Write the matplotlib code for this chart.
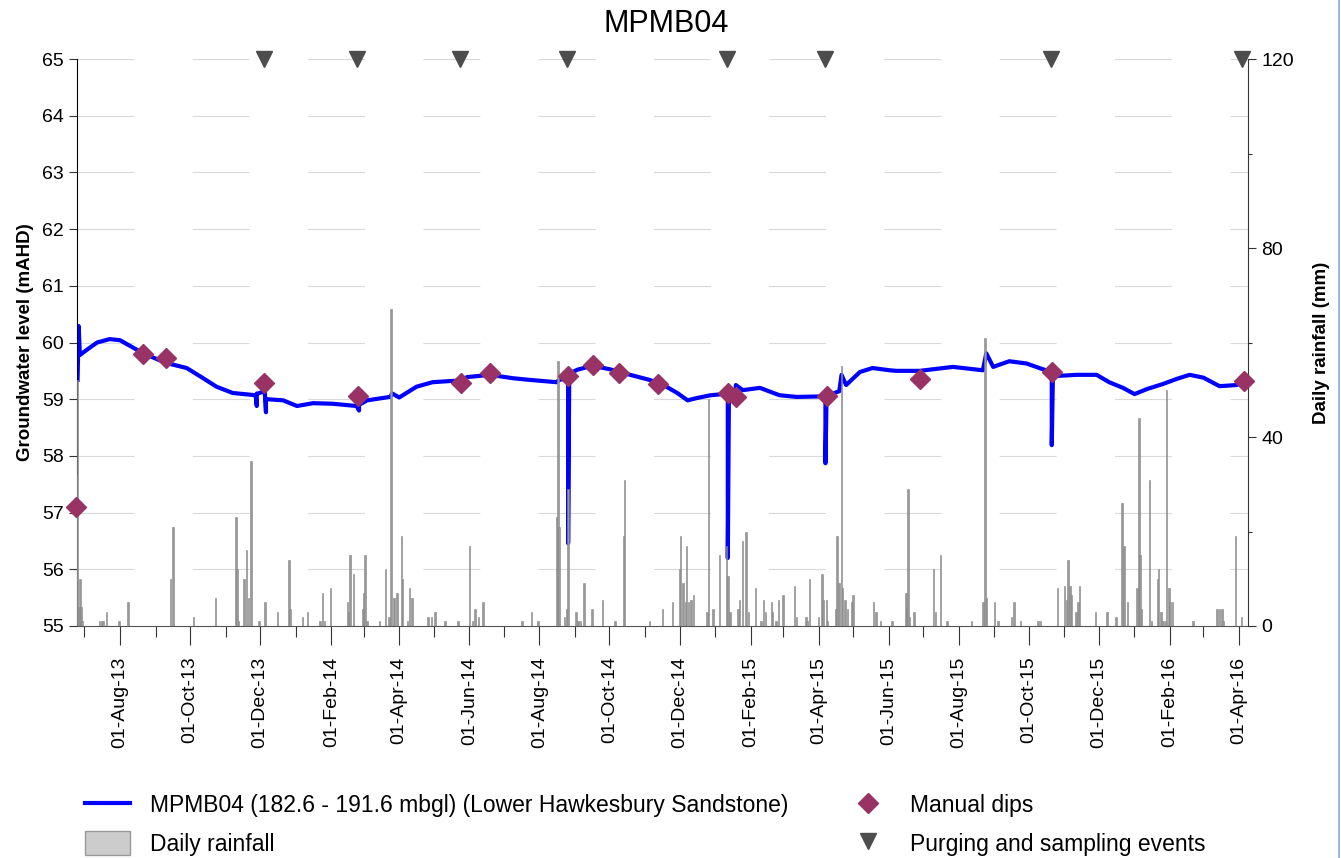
import matplotlib
matplotlib.use("Agg")
import matplotlib.pyplot as plt
import matplotlib.dates as mdates
from matplotlib.lines import Line2D
from matplotlib.patches import Patch
import numpy as np
import pandas as pd

plt.rcParams['font.family'] = ['Liberation Sans', 'DejaVu Sans']

# ---------------- data ----------------
level_dates = ["2013-06-25", "2013-06-26", "2013-06-27", "2013-07-03", "2013-07-12", "2013-07-23",
               "2013-08-01", "2013-08-21", "2013-09-10", "2013-09-28", "2013-10-10", "2013-10-24",
               "2013-11-07", "2013-11-27", "2013-11-28", "2013-11-28", "2013-11-29", "2013-12-03",
               "2013-12-05", "2013-12-06", "2013-12-06", "2013-12-07", "2013-12-21", "2014-01-02",
               "2014-01-16", "2014-02-02", "2014-02-23", "2014-02-25", "2014-02-25", "2014-03-04",
               "2014-03-24", "2014-03-26", "2014-04-01", "2014-04-16", "2014-04-30", "2014-05-15",
               "2014-05-26", "2014-05-30", "2014-06-19", "2014-07-09", "2014-07-24", "2014-08-16",
               "2014-08-18", "2014-08-26", "2014-08-26", "2014-08-27", "2014-09-03", "2014-09-16",
               "2014-10-01", "2014-10-19", "2014-11-05", "2014-11-17", "2014-11-29", "2014-12-08",
               "2014-12-16", "2014-12-28", "2015-01-08", "2015-01-12", "2015-01-12", "2015-01-13",
               "2015-01-19", "2015-01-19", "2015-01-25", "2015-02-09", "2015-02-26", "2015-03-13",
               "2015-04-05", "2015-04-07", "2015-04-07", "2015-04-08", "2015-04-19", "2015-04-21",
               "2015-04-25", "2015-05-07", "2015-05-18", "2015-06-02", "2015-06-08", "2015-06-28",
               "2015-07-27", "2015-08-22", "2015-08-25", "2015-08-31", "2015-09-14", "2015-09-29",
               "2015-10-13", "2015-10-21", "2015-10-21", "2015-10-22", "2015-10-25", "2015-11-12",
               "2015-11-29", "2015-12-10", "2015-12-22", "2016-01-01", "2016-01-12", "2016-01-26",
               "2016-02-07", "2016-02-18", "2016-03-01", "2016-03-15", "2016-03-30", "2016-04-05"]
level_values = [59.34, 60.29, 59.78, 59.87, 60.00, 60.06,
                60.04, 59.81, 59.64, 59.55, 59.40, 59.22,
                59.11, 59.07, 58.88, 59.10, 59.10, 59.13,
                59.12, 58.77, 59.00, 59.00, 58.98, 58.88,
                58.93, 58.92, 58.88, 58.80, 58.90, 58.98,
                59.04, 59.10, 59.03, 59.22, 59.30, 59.32,
                59.33, 59.39, 59.43, 59.37, 59.34, 59.30,
                59.34, 59.37, 56.46, 59.45, 59.52, 59.59,
                59.53, 59.43, 59.34, 59.25, 59.11, 58.98,
                59.02, 59.07, 59.09, 59.09, 56.20, 59.10,
                59.12, 59.25, 59.16, 59.20, 59.07, 59.04,
                59.05, 59.05, 57.87, 59.06, 59.14, 59.43,
                59.25, 59.48, 59.55, 59.51, 59.50, 59.50,
                59.57, 59.51, 59.81, 59.57, 59.67, 59.63,
                59.53, 59.48, 58.19, 59.45, 59.41, 59.43,
                59.43, 59.30, 59.20, 59.09, 59.18, 59.27,
                59.36, 59.43, 59.38, 59.23, 59.25, 59.30]

rain_dates = ["2013-06-24", "2013-06-25", "2013-06-26", "2013-06-27", "2013-06-28", "2013-06-29",
              "2013-07-14", "2013-07-16", "2013-07-17", "2013-07-20", "2013-07-31", "2013-08-08",
              "2013-09-14", "2013-09-16", "2013-10-04", "2013-10-23", "2013-11-10", "2013-11-11",
              "2013-11-12", "2013-11-17", "2013-11-19", "2013-11-21", "2013-11-23", "2013-11-30",
              "2013-12-05", "2013-12-16", "2013-12-26", "2013-12-27", "2014-01-07", "2014-01-11",
              "2014-01-22", "2014-01-24", "2014-01-26", "2014-01-31", "2014-02-15", "2014-02-16",
              "2014-02-17", "2014-02-20", "2014-02-28", "2014-03-01", "2014-03-02", "2014-03-04",
              "2014-03-15", "2014-03-20", "2014-03-23", "2014-03-25", "2014-03-27", "2014-03-28",
              "2014-03-30", "2014-04-03", "2014-04-04", "2014-04-08", "2014-04-10", "2014-04-12",
              "2014-04-26", "2014-04-29", "2014-05-02", "2014-05-11", "2014-05-22", "2014-06-01",
              "2014-06-04", "2014-06-06", "2014-06-09", "2014-06-13", "2014-07-17", "2014-07-25",
              "2014-07-31", "2014-08-16", "2014-08-17", "2014-08-18", "2014-08-23", "2014-08-25",
              "2014-08-26", "2014-09-02", "2014-09-03", "2014-09-04", "2014-09-06", "2014-09-09",
              "2014-09-16", "2014-09-25", "2014-10-06", "2014-10-13", "2014-10-14", "2014-11-05",
              "2014-11-16", "2014-11-25", "2014-12-01", "2014-12-02", "2014-12-04", "2014-12-06",
              "2014-12-07", "2014-12-09", "2014-12-11", "2014-12-13", "2014-12-25", "2014-12-26",
              "2014-12-30", "2015-01-05", "2015-01-11", "2015-01-12", "2015-01-14", "2015-01-21",
              "2015-01-22", "2015-01-25", "2015-01-28", "2015-01-30", "2015-02-05", "2015-02-10",
              "2015-02-12", "2015-02-14", "2015-02-19", "2015-02-20", "2015-02-23", "2015-02-25",
              "2015-03-01", "2015-03-11", "2015-03-13", "2015-03-21", "2015-03-22", "2015-03-24",
              "2015-04-01", "2015-04-04", "2015-04-05", "2015-04-08", "2015-04-09", "2015-04-16",
              "2015-04-17", "2015-04-19", "2015-04-21", "2015-04-22", "2015-04-24", "2015-04-26",
              "2015-04-30", "2015-05-01", "2015-05-19", "2015-05-21", "2015-05-25", "2015-06-04",
              "2015-06-16", "2015-06-17", "2015-06-18", "2015-06-19", "2015-06-23", "2015-07-10",
              "2015-07-12", "2015-07-16", "2015-07-22", "2015-08-12", "2015-08-22", "2015-08-24",
              "2015-08-25", "2015-09-01", "2015-09-04", "2015-09-16", "2015-09-18", "2015-09-24",
              "2015-10-09", "2015-10-11", "2015-10-26", "2015-11-01", "2015-11-03", "2015-11-04",
              "2015-11-06", "2015-11-07", "2015-11-11", "2015-11-13", "2015-11-14", "2015-11-28",
              "2015-12-08", "2015-12-16", "2015-12-21", "2015-12-23", "2015-12-26", "2016-01-03",
              "2016-01-05", "2016-01-06", "2016-01-07", "2016-01-14", "2016-01-16", "2016-01-21",
              "2016-01-22", "2016-01-24", "2016-01-26", "2016-01-28", "2016-01-29", "2016-01-31",
              "2016-02-01", "2016-02-03", "2016-02-21", "2016-03-13", "2016-03-15", "2016-03-17",
              "2016-03-18", "2016-03-29", "2016-04-03"]
rain_mm = [32, 52, 4, 10, 4, 1,
           1, 1, 1, 3, 1, 5,
           10, 21, 2, 6, 23, 12,
           1, 10, 16, 6, 35, 1,
           5, 3, 14, 3.5, 2, 3,
           1, 7, 1, 8, 5, 3,
           15, 11, 3.5, 7, 15, 1,
           1, 12, 2, 67, 6, 6,
           7, 19, 10, 1, 8, 6,
           2, 2, 3, 1, 1, 17,
           1, 3.5, 2, 5, 1, 3,
           1, 23, 56, 21, 2, 3.5,
           29, 3, 1, 1, 1, 9,
           3.5, 5.5, 1, 19, 31, 1,
           3.5, 5, 12, 19, 9, 5,
           17, 5, 5.5, 6.5, 3, 48,
           3.5, 15, 17, 10.5, 3, 3.5,
           5.5, 18, 20, 3, 8, 1,
           5.5, 3, 5, 3, 1, 5.5,
           6.5, 8.5, 2, 2, 1, 10,
           2, 11, 5.5, 5.5, 1, 3.5,
           19, 9, 55, 8, 5.5, 3.5,
           5, 6.5, 5, 3, 1, 1,
           7, 3.5, 29, 2, 3, 12,
           3, 15, 1, 1, 5, 61,
           6, 5, 1, 2, 5, 1,
           1, 1, 8, 8.5, 5.5, 14,
           8.5, 6.5, 3, 5, 8.5, 3,
           3, 2, 26, 17, 5, 8,
           44, 15, 3.5, 31, 1, 10,
           12, 3, 1, 1, 50, 8,
           5, 5, 1, 3.5, 3.5, 3.5,
           1, 19, 2]

dip_dates = ["2013-06-24", "2013-08-21", "2013-09-10", "2013-12-04", "2014-02-24", "2014-05-25",
             "2014-06-19", "2014-08-26", "2014-09-17", "2014-10-09", "2014-11-12", "2015-01-12",
             "2015-01-19", "2015-04-08", "2015-06-28", "2015-10-21", "2016-04-05"]
dip_values = [57.10, 59.80, 59.73, 59.29, 59.06, 59.29,
              59.46, 59.41, 59.60, 59.46, 59.27, 59.11,
              59.04, 59.06, 59.36, 59.48, 59.32]

purge_dates = ["2013-12-04", "2014-02-23", "2014-05-24", "2014-08-25",
               "2015-01-11", "2015-04-07", "2015-10-20", "2016-04-04"]

series_label = "MPMB04 (182.6 - 191.6 mbgl) (Lower Hawkesbury Sandstone)"
title_text = "MPMB04"

# ---------------- figure ----------------
fig = plt.figure(figsize=(13.41, 8.58), dpi=100)
ax1 = fig.add_axes([0.0574, 0.2704, 0.8732, 0.6608])
ax2 = ax1.twinx()

ld = pd.to_datetime(level_dates)
rd = pd.to_datetime(rain_dates)
dd = pd.to_datetime(dip_dates)
pdts = pd.to_datetime(purge_dates)

# grid
dash = (0, (41 / 0.8, 42 / 0.8))
ax1.set_axisbelow(True)
ax1.yaxis.grid(True, color='#d9d9d9', linewidth=0.8, linestyle=dash)

ax1.plot(ld, level_values, color='#0000ff', linewidth=3.0, zorder=2, solid_joinstyle='round')

ax2.bar(rd, rain_mm, width=1.3, color='#999999', edgecolor='#858585', linewidth=0.4, zorder=2)

ax2.plot(dd, dip_values, linestyle='none', marker='D', markersize=10, color='#993366',
         transform=ax1.transData, clip_on=False, zorder=5)
ax2.plot(pdts, [65] * len(pdts), linestyle='none', marker='v', markersize=11, color='#4d4d4d',
         transform=ax1.transData, clip_on=False, zorder=5)

# limits
ax1.set_xlim(pd.Timestamp("2013-06-24 12:00"), pd.Timestamp("2016-04-08 18:00"))
ax1.set_ylim(55, 65)
ax2.set_ylim(0, 120)

ax1.set_yticks(np.arange(55, 66, 1))
ax2.set_yticks([0, 40, 80, 120])
ax2.set_yticks([20, 60, 100], minor=True)

ax1.xaxis.set_major_locator(mdates.MonthLocator(bymonth=[2, 4, 6, 8, 10, 12]))
ax1.xaxis.set_minor_locator(mdates.MonthLocator())
ax1.xaxis.set_major_formatter(mdates.DateFormatter('%d-%b-%y'))

ax1.tick_params(axis='x', which='major', length=14, width=0.8, labelsize=14, pad=8, color='#333333')
ax1.tick_params(axis='x', which='minor', length=8, width=0.8, color='#333333')
ax1.tick_params(axis='y', which='major', length=6, width=0.8, labelsize=14, color='#333333')
ax2.tick_params(axis='y', which='major', length=6, width=0.8, labelsize=14, color='#333333')
ax2.tick_params(axis='y', which='minor', length=3, width=0.8, color='#333333')
plt.setp(ax1.get_xticklabels(), rotation=90)

for s in ['top', 'right']:
    ax1.spines[s].set_visible(False)
for s in ['top', 'left', 'bottom']:
    ax2.spines[s].set_visible(False)
ax1.spines['left'].set_color('#000000')
ax1.spines['bottom'].set_color('#555555')
ax2.spines['right'].set_color('#333333')

ax1.set_ylabel("Groundwater level (mAHD)", fontsize=13.5, fontweight='bold', labelpad=6)
ax2.set_ylabel("Daily rainfall (mm)", fontsize=13.5, fontweight='bold', labelpad=14)
fig.text(666 / 1341, 1 - 24 / 858, title_text, fontsize=22, ha='center', va='center')

# legend (two columns placed separately)
fs = 16.5
h_line = Line2D([], [], color='#0000ff', linewidth=3.0)
h_rain = Patch(facecolor='#cccccc', edgecolor='#999999', linewidth=1)
h_dip = Line2D([], [], linestyle='none', marker='D', markersize=10, color='#993366')
h_purge = Line2D([], [], linestyle='none', marker='v', markersize=11, color='#4d4d4d')
leg_kw = dict(loc='upper left', frameon=False, fontsize=fs, handlelength=1.97, handleheight=1.2,
              handletextpad=0.87, labelspacing=0.6, borderpad=0, borderaxespad=0)
leg1 = fig.legend([h_line, h_rain], [series_label, "Daily rainfall"],
                  bbox_to_anchor=(85 / 1341, 1 - 793 / 858), **leg_kw)
leg2 = fig.legend([h_dip, h_purge], ["Manual dips", "Purging and sampling events"],
                  bbox_to_anchor=(845 / 1341, 1 - 793 / 858), **leg_kw)

fig.add_artist(Line2D([0.9985, 0.9985], [0, 1], transform=fig.transFigure, color='#9dbbdc', linewidth=1.5))

fig.savefig("out.png", dpi=100)
